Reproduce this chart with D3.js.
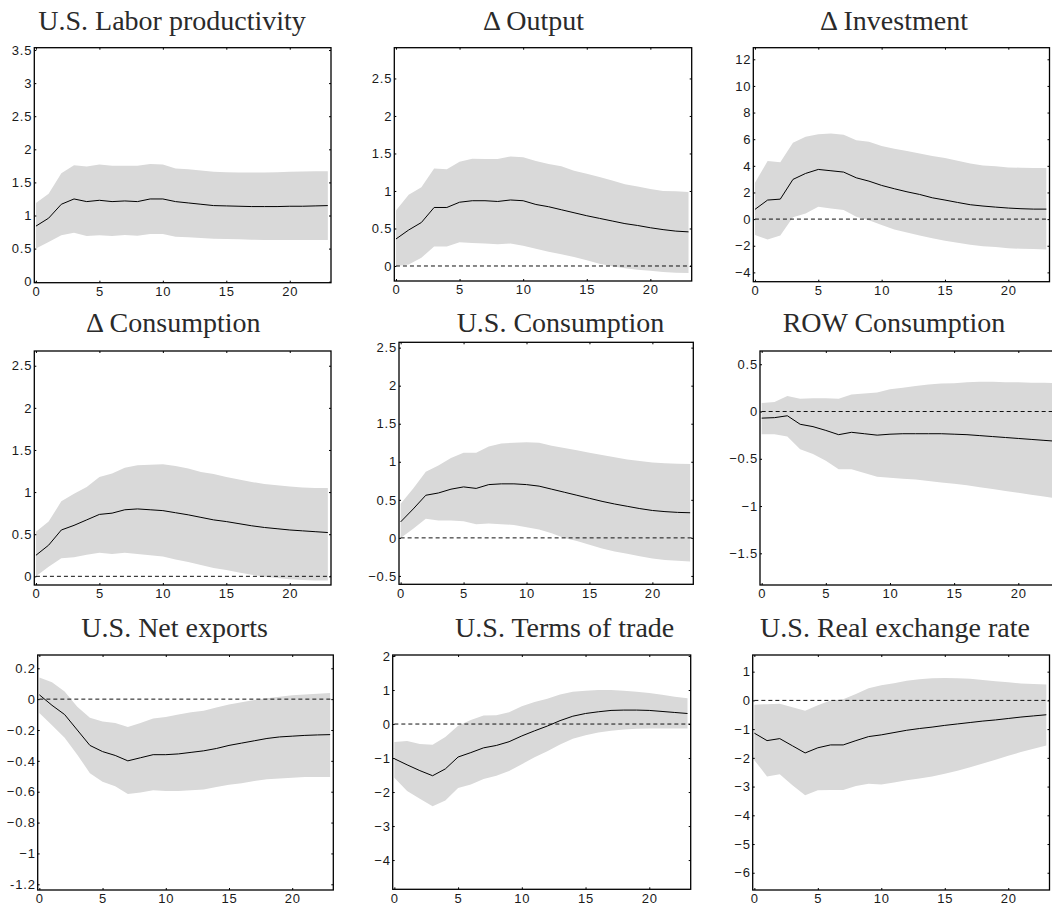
<!DOCTYPE html>
<html>
<head>
<meta charset="utf-8">
<script src="https://cdn.jsdelivr.net/npm/d3@7"></script>
<style>
  body { margin: 0; background: #fff; }
  svg { display: block; }
  .title { font-family: "Liberation Serif", "Times New Roman", serif; font-size: 28px; fill: #2a2a2a; }
</style>
</head>
<body>
<svg id="fig" width="1052" height="910"></svg>
<script>
// Impulse horizon (quarters)
const horizons = [0,1,2,3,4,5,6,7,8,9,10,11,12,13,14,15,16,17,18,19,20,21,22,23];
const xTicks = [0,5,10,15,20];

// Point estimates and 90% bands, one set of arrays per variable
const prodMean = [0.84,0.96,1.17,1.25,1.21,1.23,1.21,1.22,1.21,1.25,1.25,1.21,1.19,1.17,1.15,1.145,1.14,1.135,1.135,1.135,1.14,1.14,1.145,1.15];
const prodLo   = [0.50,0.60,0.70,0.74,0.69,0.70,0.69,0.705,0.695,0.72,0.72,0.68,0.67,0.66,0.65,0.645,0.64,0.635,0.63,0.63,0.63,0.63,0.63,0.63];
const prodHi   = [1.19,1.33,1.64,1.76,1.74,1.77,1.75,1.75,1.75,1.78,1.77,1.71,1.70,1.68,1.66,1.655,1.65,1.65,1.65,1.655,1.66,1.665,1.67,1.67];

const outMean = [0.36,0.48,0.58,0.78,0.78,0.85,0.87,0.87,0.86,0.88,0.87,0.82,0.79,0.75,0.71,0.67,0.635,0.60,0.565,0.54,0.51,0.485,0.465,0.455];
const outLo   = [0.0,0.02,0.11,0.26,0.26,0.315,0.305,0.30,0.29,0.30,0.27,0.23,0.19,0.155,0.12,0.075,0.03,-0.005,-0.03,-0.05,-0.065,-0.08,-0.09,-0.095];
const outHi   = [0.74,0.95,1.05,1.30,1.29,1.39,1.43,1.425,1.425,1.46,1.45,1.40,1.36,1.33,1.27,1.23,1.185,1.14,1.09,1.06,1.025,1.00,0.995,0.985];

const invMean = [0.73,1.43,1.50,2.98,3.43,3.73,3.63,3.53,3.10,2.85,2.53,2.28,2.05,1.85,1.60,1.43,1.25,1.08,0.98,0.90,0.83,0.78,0.75,0.75];
const invLo   = [-1.20,-1.53,-1.23,0.13,0.43,0.93,0.80,0.68,0.18,-0.08,-0.45,-0.78,-1.00,-1.23,-1.43,-1.63,-1.78,-1.93,-2.03,-2.10,-2.18,-2.23,-2.25,-2.28];
const invHi   = [2.73,4.36,4.26,5.73,6.18,6.38,6.43,6.33,5.93,5.81,5.48,5.28,5.11,4.93,4.73,4.58,4.38,4.18,4.03,3.96,3.88,3.86,3.83,3.83];

const consMean = [0.25,0.37,0.55,0.605,0.67,0.735,0.75,0.79,0.80,0.79,0.78,0.755,0.73,0.70,0.67,0.65,0.625,0.60,0.58,0.565,0.55,0.54,0.53,0.52];
const consLo   = [0.0,0.115,0.215,0.225,0.255,0.28,0.265,0.28,0.265,0.25,0.235,0.20,0.17,0.135,0.10,0.075,0.045,0.02,-0.005,-0.02,-0.035,-0.045,-0.05,-0.05];
const consHi   = [0.53,0.65,0.89,0.98,1.06,1.18,1.22,1.29,1.32,1.325,1.33,1.31,1.28,1.24,1.215,1.18,1.15,1.12,1.095,1.08,1.065,1.055,1.05,1.05];

const usConsMean = [0.21,0.38,0.56,0.59,0.64,0.67,0.65,0.70,0.71,0.71,0.70,0.68,0.64,0.60,0.56,0.52,0.48,0.445,0.415,0.385,0.36,0.345,0.335,0.33];
const usConsLo   = [0.0,0.12,0.25,0.23,0.23,0.22,0.18,0.19,0.18,0.17,0.14,0.11,0.06,0.0,-0.04,-0.09,-0.14,-0.18,-0.21,-0.24,-0.27,-0.29,-0.30,-0.31];
const usConsHi   = [0.45,0.65,0.87,0.95,1.05,1.12,1.12,1.20,1.24,1.25,1.255,1.25,1.21,1.18,1.15,1.12,1.09,1.06,1.03,1.01,0.99,0.98,0.975,0.97];

const rowConsMean = [-0.07,-0.065,-0.045,-0.135,-0.16,-0.20,-0.245,-0.22,-0.235,-0.25,-0.24,-0.235,-0.235,-0.235,-0.235,-0.24,-0.245,-0.255,-0.265,-0.275,-0.285,-0.295,-0.305,-0.315];
const rowConsLo   = [-0.24,-0.24,-0.265,-0.40,-0.45,-0.52,-0.61,-0.61,-0.65,-0.69,-0.70,-0.71,-0.72,-0.735,-0.75,-0.765,-0.78,-0.80,-0.82,-0.84,-0.86,-0.88,-0.90,-0.92];
const rowConsHi   = [0.09,0.10,0.165,0.135,0.14,0.14,0.135,0.18,0.19,0.20,0.235,0.25,0.27,0.285,0.295,0.30,0.31,0.315,0.315,0.31,0.31,0.305,0.305,0.30];

const nxMean = [0.028,-0.04,-0.10,-0.20,-0.30,-0.34,-0.365,-0.40,-0.38,-0.36,-0.36,-0.355,-0.345,-0.335,-0.32,-0.30,-0.285,-0.27,-0.255,-0.245,-0.24,-0.235,-0.232,-0.23];
const nxLo   = [-0.09,-0.17,-0.25,-0.36,-0.48,-0.535,-0.565,-0.615,-0.605,-0.59,-0.595,-0.595,-0.59,-0.585,-0.57,-0.555,-0.545,-0.53,-0.52,-0.515,-0.51,-0.505,-0.505,-0.505];
const nxHi   = [0.14,0.11,0.05,-0.05,-0.12,-0.145,-0.155,-0.18,-0.155,-0.125,-0.115,-0.10,-0.085,-0.075,-0.055,-0.035,-0.02,-0.005,0.005,0.015,0.025,0.03,0.035,0.04];

const totMean = [-1.02,-1.20,-1.37,-1.52,-1.32,-0.97,-0.84,-0.70,-0.63,-0.52,-0.35,-0.20,-0.06,0.10,0.23,0.31,0.36,0.40,0.41,0.41,0.40,0.37,0.34,0.31];
const totLo   = [-1.58,-1.97,-2.20,-2.42,-2.25,-1.88,-1.78,-1.62,-1.52,-1.38,-1.18,-0.98,-0.80,-0.60,-0.43,-0.33,-0.25,-0.20,-0.16,-0.14,-0.13,-0.13,-0.13,-0.13];
const totHi   = [-0.53,-0.50,-0.59,-0.61,-0.38,-0.05,0.12,0.25,0.26,0.35,0.52,0.65,0.74,0.87,0.95,0.98,1.00,1.00,0.98,0.95,0.91,0.86,0.80,0.76];

const rerMean = [-1.14,-1.40,-1.33,-1.58,-1.83,-1.65,-1.55,-1.55,-1.40,-1.26,-1.20,-1.12,-1.04,-0.98,-0.93,-0.87,-0.82,-0.77,-0.72,-0.68,-0.63,-0.58,-0.54,-0.50];
const rerLo   = [-2.08,-2.65,-2.57,-2.95,-3.30,-3.13,-3.12,-3.12,-2.98,-2.90,-2.93,-2.86,-2.78,-2.72,-2.65,-2.55,-2.45,-2.33,-2.20,-2.07,-1.93,-1.80,-1.68,-1.57];
const rerHi   = [-0.15,-0.13,-0.12,-0.24,-0.36,-0.17,0.0,0.04,0.22,0.42,0.53,0.60,0.68,0.74,0.77,0.78,0.77,0.75,0.71,0.67,0.63,0.59,0.57,0.55];

// Panel titles and y tick values
const titles = ["U.S. Labor productivity","\u0394 Output","\u0394 Investment",
                "\u0394 Consumption","U.S. Consumption","ROW Consumption",
                "U.S. Net exports","U.S. Terms of trade","U.S. Real exchange rate"];
const yTicksProd   = [0,0.5,1,1.5,2,2.5,3,3.5];
const yTicksOut    = [0,0.5,1,1.5,2,2.5];
const yTicksInv    = [-4,-2,0,2,4,6,8,10,12];
const yTicksCons   = [0,0.5,1,1.5,2,2.5];
const yTicksUsCons = [-0.5,0,0.5,1,1.5,2,2.5];
const yTicksRow    = [-1.5,-1,-0.5,0,0.5];
const yTicksNx     = [-1.2,-1,-0.8,-0.6,-0.4,-0.2,0,0.2];
const yTicksTot    = [-4,-3,-2,-1,0,1,2];
const yTicksRer    = [-6,-5,-4,-3,-2,-1,0,1];

// Layout: pixel box, y range and title anchor for each panel
const panels = [
  {title: titles[0], mean: prodMean, lo: prodLo, hi: prodHi, ticks: yTicksProd, yDom: [-0.015, 3.535], box: [34.3, 47.7, 331, 282.7], tx: 172, ty: 30, zero: false},
  {title: titles[1], mean: outMean, lo: outLo, hi: outHi, ticks: yTicksOut, yDom: [-0.2, 2.91], box: [394.3, 47.7, 691.7, 281], tx: 533.5, ty: 30, zero: true},
  {title: titles[2], mean: invMean, lo: invLo, hi: invHi, ticks: yTicksInv, yDom: [-4.7, 12.87], box: [753.3, 47.7, 1049.5, 281.7], tx: 894, ty: 30, zero: true},
  {title: titles[3], mean: consMean, lo: consLo, hi: consHi, ticks: yTicksCons, yDom: [-0.103, 2.675], box: [34.3, 351, 331, 585], tx: 173.3, ty: 332, zero: true},
  {title: titles[4], mean: usConsMean, lo: usConsLo, hi: usConsHi, ticks: yTicksUsCons, yDom: [-0.61, 2.57], box: [399, 342.3, 693.3, 584.3], tx: 560.5, ty: 332, zero: true},
  {title: titles[5], mean: rowConsMean, lo: rowConsLo, hi: rowConsHi, ticks: yTicksRow, yDom: [-1.835, 0.64], box: [760, 351, 1060, 585], tx: 894, ty: 332, zero: true},
  {title: titles[6], mean: nxMean, lo: nxLo, hi: nxHi, ticks: yTicksNx, yDom: [-1.237, 0.286], box: [37.7, 655, 333.3, 890], tx: 174.7, ty: 636.7, zero: true},
  {title: titles[7], mean: totMean, lo: totLo, hi: totHi, ticks: yTicksTot, yDom: [-4.86, 2.03], box: [392.7, 655, 690.7, 889.3], tx: 564.7, ty: 636.7, zero: true},
  {title: titles[8], mean: rerMean, lo: rerLo, hi: rerHi, ticks: yTicksRer, yDom: [-6.6, 1.58], box: [752.7, 655, 1049.5, 890], tx: 895, ty: 636.7, zero: true}
];

const xDom = [-0.13, 23.25];
const svg = d3.select("#fig");

function fmt(v) {
  if (v === -1.2) return "-1.2";
  const s = String(Math.abs(v));
  return (v < 0 ? "\u2212" : "") + s;
}

function styleLabels(a) {
  a.attr("font-size", null).attr("font-family", null);
  a.selectAll(".tick text")
    .style("font-family", "'Liberation Sans', Arial, sans-serif")
    .style("font-size", "13px")
    .style("letter-spacing", "0.8px")
    .style("fill", "#1a1a1a");
}

panels.forEach((p, k) => {
  const [x0, y0, x1, y1] = p.box;
  const x = d3.scaleLinear().domain(xDom).range([x0, x1]);
  const y = d3.scaleLinear().domain(p.yDom).range([y1, y0]);

  svg.append("text").attr("class", "title")
    .attr("x", p.tx).attr("y", p.ty).attr("text-anchor", "middle").text(p.title);

  const clipId = "clip" + k;
  svg.append("clipPath").attr("id", clipId)
    .append("rect").attr("x", x0).attr("y", y0).attr("width", x1 - x0).attr("height", y1 - y0);

  const g = svg.append("g").attr("clip-path", `url(#${clipId})`);

  const band = d3.area()
    .x((d, i) => x(horizons[i]))
    .y0((d, i) => y(p.lo[i]))
    .y1((d, i) => y(p.hi[i]));
  g.append("path").datum(horizons).attr("d", band).attr("fill", "#d9d9d9");

  if (p.zero) {
    g.append("line")
      .attr("x1", x(0)).attr("x2", x1)
      .attr("y1", y(0)).attr("y2", y(0))
      .attr("stroke", "#111").attr("stroke-width", 1)
      .attr("stroke-dasharray", "4,3");
  }

  const line = d3.line()
    .x((d, i) => x(horizons[i]))
    .y((d, i) => y(p.mean[i]));
  g.append("path").datum(horizons).attr("d", line)
    .attr("fill", "none").attr("stroke", "#000").attr("stroke-width", 1);

  // Axes with inward ticks on all four sides
  const left = svg.append("g").attr("transform", `translate(${x0},0)`)
    .call(d3.axisLeft(y).tickValues(p.ticks).tickSize(-2).tickPadding(2).tickFormat(fmt));
  const right = svg.append("g").attr("transform", `translate(${x1},0)`)
    .call(d3.axisRight(y).tickValues(p.ticks).tickSize(-2).tickFormat(""));
  const bottom = svg.append("g").attr("transform", `translate(0,${y1})`)
    .call(d3.axisBottom(x).tickValues(xTicks).tickSize(-2).tickPadding(4).tickFormat(d3.format("d")));
  const top = svg.append("g").attr("transform", `translate(0,${y0})`)
    .call(d3.axisTop(x).tickValues(xTicks).tickSize(-2).tickFormat(""));
  [left, right, bottom, top].forEach(a => {
    a.select(".domain").remove();
    a.selectAll(".tick line").attr("stroke", "#000").attr("stroke-width", 1);
    styleLabels(a);
  });

  svg.append("rect")
    .attr("x", x0).attr("y", y0).attr("width", x1 - x0).attr("height", y1 - y0)
    .attr("fill", "none").attr("stroke", "#000").attr("stroke-width", 1.3);
});
</script>
</body>
</html>
